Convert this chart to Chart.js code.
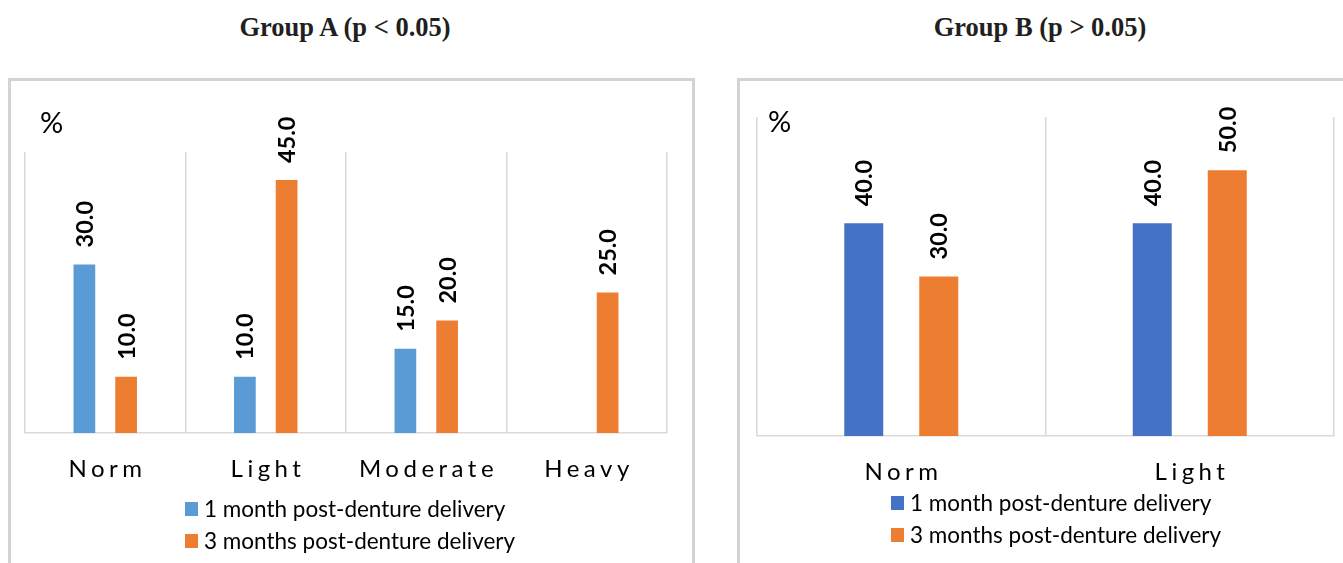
<!DOCTYPE html>
<html>
<head>
<meta charset="utf-8">
<script src="https://cdn.jsdelivr.net/npm/chart.js@4.4.1/dist/chart.umd.min.js"></script>
<style>
  html, body { margin: 0; padding: 0; background: #ffffff; }
  body { width: 1343px; height: 563px; position: relative; overflow: hidden; }
  .title {
    position: absolute; top: 12px;
    font-family: "Liberation Serif", "DejaVu Serif", serif;
    font-weight: bold; font-size: 26.5px; color: #231f20;
    text-align: center; white-space: nowrap;
  }
  .frame {
    position: absolute; border: 3px solid #d3d3d3; box-sizing: border-box;
  }
  .holder { position: absolute; }
</style>
</head>
<body>
<div class="title" style="left:195px; width:300px;">Group A (p &lt; 0.05)</div>
<div class="title" style="left:890px; width:300px;">Group B (p &gt; 0.05)</div>

<div class="frame" style="left:8px; top:78px; width:687px; height:500px;"></div>
<div class="frame" style="left:737px; top:78px; width:620px; height:500px;"></div>

<div class="holder" style="left:11px; top:81px; width:680px; height:482px;"><canvas id="chartA"></canvas></div>
<div class="holder" style="left:740px; top:81px; width:603px; height:482px;"><canvas id="chartB"></canvas></div>

<script>
// Group A: denture stomatitis severity, share of patients (%)
const categoriesA = ["Norm", "Light", "Moderate", "Heavy"];
const oneMonthA = [30.0, 10.0, 15.0, null];
const threeMonthsA = [10.0, 45.0, 20.0, 25.0];

// Group B
const categoriesB = ["Norm", "Light"];
const oneMonthB = [40.0, 40.0];
const threeMonthsB = [30.0, 50.0];

const seriesNames = ["1 month post-denture delivery", "3 months post-denture delivery"];
const axisUnit = "%";

const LABEL_FONT = 'Lato, "Open Sans", sans-serif';

// Vertical bold value labels above each bar
const valueLabels = {
  id: 'valueLabels',
  afterDatasetsDraw(chart, args, opts) {
    const ctx = chart.ctx;
    chart.data.datasets.forEach((ds, i) => {
      const meta = chart.getDatasetMeta(i);
      meta.data.forEach((bar, j) => {
        const v = ds.data[j];
        if (v === null || v === undefined) return;
        ctx.save();
        ctx.translate(bar.x, bar.y - opts.gap);
        ctx.rotate(-Math.PI / 2);
        ctx.font = 'bold ' + opts.size + 'px ' + LABEL_FONT;
        ctx.fillStyle = '#000';
        ctx.textAlign = 'left';
        ctx.textBaseline = 'middle';
        ctx.fillText(v.toFixed(1), 0, 1);
        ctx.restore();
      });
    });
  }
};

// Spaced category names under the axis, plus the unit mark and stacked legend
const extras = {
  id: 'extras',
  afterDraw(chart, args, opts) {
    const ctx = chart.ctx;
    const x = chart.scales.x;
    const area = chart.chartArea;
    ctx.save();
    // unit mark
    ctx.font = opts.unitSize + 'px ' + LABEL_FONT;
    ctx.fillStyle = '#000';
    ctx.textAlign = 'left';
    ctx.textBaseline = 'alphabetic';
    ctx.fillText(axisUnit, opts.unitX, opts.unitY);
    // category names
    ctx.font = opts.catSize + 'px ' + LABEL_FONT;
    ctx.letterSpacing = opts.catSpacing + 'px';
    ctx.textAlign = 'center';
    chart.data.labels.forEach((lab, i) => {
      const px = x.getPixelForValue(i) + opts.catSpacing / 2;
      ctx.fillText(lab, px, area.bottom + opts.catOffset);
    });
    ctx.letterSpacing = '0px';
    // legend
    ctx.font = opts.legSize + 'px ' + LABEL_FONT;
    ctx.textAlign = 'left';
    ctx.textBaseline = 'middle';
    chart.data.datasets.forEach((ds, i) => {
      const y = opts.legY + i * opts.legGap;
      ctx.fillStyle = ds.backgroundColor;
      ctx.fillRect(opts.legX, y - 7, 13, 14);
      ctx.fillStyle = '#000';
      ctx.fillText(ds.label, opts.legX + 19, y + 1);
    });
    ctx.restore();
  }
};

function makeChart(id, labels, s1, s2, colors, yMax, padding, extraOpts) {
  return new Chart(document.getElementById(id), {
    type: 'bar',
    data: {
      labels: labels,
      datasets: [
        { label: seriesNames[0], data: s1, backgroundColor: colors[0] },
        { label: seriesNames[1], data: s2, backgroundColor: colors[1] }
      ]
    },
    options: {
      responsive: true,
      maintainAspectRatio: false,
      animation: false,
      devicePixelRatio: 1,
      layout: { padding: padding },
      datasets: { bar: { categoryPercentage: 0.52, barPercentage: 0.52 } },
      scales: {
        x: {
          offset: true,
          grid: { display: true, offset: true, color: '#d9d9d9', lineWidth: 1.5, drawTicks: false },
          border: { display: true, color: '#d9d9d9', width: 1.5 },
          ticks: { display: false }
        },
        y: {
          display: false,
          min: 0,
          max: yMax
        }
      },
      plugins: {
        legend: { display: false },
        tooltip: { enabled: false },
        valueLabels: { gap: 17, size: 23.5 },
        extras: extraOpts
      }
    },
    plugins: [valueLabels, extras]
  });
}

makeChart('chartA', categoriesA, oneMonthA, threeMonthsA,
  ['#5b9bd5', '#ed7d31'], 50,
  { left: 14, right: 24, top: 71, bottom: 130 },
  { unitX: 29, unitY: 52, unitSize: 29, catSize: 24, catSpacing: 4.5, catOffset: 44,
    legX: 174, legY: 428, legGap: 32, legSize: 22.5 });

makeChart('chartB', categoriesB, oneMonthB, threeMonthsB,
  ['#4472c4', '#ed7d31'], 60,
  { left: 17, right: 9, top: 36, bottom: 127 },
  { unitX: 28, unitY: 51, unitSize: 29, catSize: 24, catSpacing: 4.5, catOffset: 44,
    legX: 151, legY: 422, legGap: 32, legSize: 22.5 });
</script>
</body>
</html>
